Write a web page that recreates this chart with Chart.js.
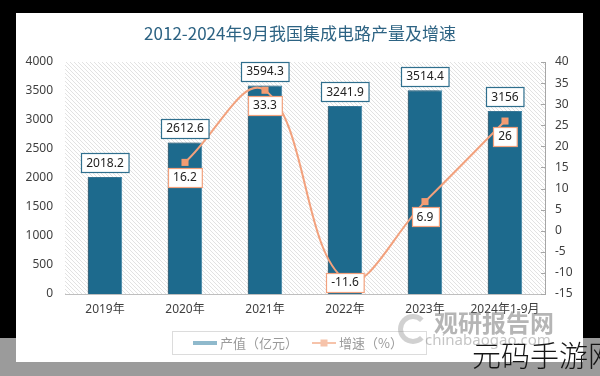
<!DOCTYPE html>
<html><head><meta charset="utf-8">
<script src="https://cdn.jsdelivr.net/npm/chart.js@4"></script>
<style>
html,body{margin:0;padding:0;width:600px;height:376px;overflow:hidden;background:#000;}
#gray{position:absolute;left:0;top:338px;width:600px;height:38px;background:#9b9b9b;}
#panel{position:absolute;left:16px;top:13px;width:567px;height:349px;background:#fff;}
#c{position:absolute;left:0;top:0;}
.wm{position:absolute;font-family:'Noto Sans CJK SC','Noto Sans',sans-serif;white-space:nowrap;line-height:1;}
#wm1{left:434px;top:310px;font-size:24px;font-weight:bold;color:rgba(120,120,120,0.55);}
#wm2{left:425px;top:332px;font-size:15px;color:rgba(140,140,140,0.5);font-family:'Noto Sans',sans-serif;}
#logo{position:absolute;left:398px;top:314px;width:20px;height:20px;border:5px solid rgba(140,140,140,0.4);border-right-color:transparent;border-radius:50%;}
#wm3{left:472px;top:340px;font-size:29px;font-weight:300;color:#151515;}
</style></head>
<body>
<div id="gray"></div><div id="panel"></div>
<canvas id="c" width="600" height="376"></canvas>
<div id="logo"></div>
<div class="wm" id="wm1">观研报告网</div>
<div class="wm" id="wm2">chinabaogao.com</div>
<div class="wm" id="wm3">元码手游网</div>
<script>
const titleText = '2012-2024年9月我国集成电路产量及增速';
const categories = ['2019年','2020年','2021年','2022年','2023年','2024年1-9月'];
const outputValues = [2018.2, 2612.6, 3594.3, 3241.9, 3514.4, 3156];
const growthValues = [null, 16.2, 33.3, -11.6, 6.9, 26];
const seriesNames = ['产值（亿元）','增速（%）'];
const leftAxis = {min: 0, max: 4000, step: 500};
const rightAxis = {min: -15, max: 40, step: 5};

const FONT = "'Noto Sans','Noto Sans CJK SC',sans-serif";
const BAR_COLOR = '#1d6a8d';
const LINE_COLOR = '#f2a17d';

function makePattern(ctx){
  const p = document.createElement('canvas');
  p.width = 4; p.height = 4;
  const g = p.getContext('2d');
  g.fillStyle = '#ffffff'; g.fillRect(0,0,4,4);
  g.strokeStyle = '#e2e2e2'; g.lineWidth = 1;
  g.beginPath(); g.moveTo(0,0); g.lineTo(4,4); g.stroke();
  g.beginPath(); g.moveTo(-1,3); g.lineTo(1,5); g.stroke();
  g.beginPath(); g.moveTo(3,-1); g.lineTo(5,1); g.stroke();
  return ctx.createPattern(p,'repeat');
}

const decorPlugin = {
  id: 'decor',
  beforeDatasetsDraw(chart){
    const {ctx, chartArea:a} = chart;
    ctx.save();
    ctx.fillStyle = makePattern(ctx);
    ctx.fillRect(a.left, a.top, a.right - a.left, a.bottom - a.top);
    ctx.restore();
  },
  beforeDatasetDraw(chart, args){
    if (args.index === 0){
      const ctx = chart.ctx;
      ctx.save();
      ctx.shadowColor = 'rgba(0,0,0,0.35)';
      ctx.shadowOffsetX = -3; ctx.shadowOffsetY = 0; ctx.shadowBlur = 2;
    }
  },
  afterDatasetDraw(chart, args){
    if (args.index === 0) chart.ctx.restore();
  },
  afterDatasetsDraw(chart){
    const {ctx, chartArea:a} = chart;
    ctx.save();
    ctx.font = '12px ' + FONT;
    ctx.textAlign = 'center'; ctx.textBaseline = 'middle';
    const drawBox = (text, cx, cy, border) => {
      const w = ctx.measureText(text).width + 10, h = 19;
      const x = Math.round(cx - w/2) + 0.5, y = Math.round(cy - h/2) + 0.5;
      ctx.fillStyle = '#fff'; ctx.fillRect(x, y, w, h);
      ctx.strokeStyle = border; ctx.lineWidth = 1.2; ctx.strokeRect(x, y, w, h);
      ctx.fillStyle = '#222'; ctx.fillText(text, cx, cy + 0.5);
    };
    chart.getDatasetMeta(0).data.forEach((el, i) => {
      drawBox(String(outputValues[i]), el.x, el.y - 14, '#2f6f8e');
    });
    chart.getDatasetMeta(1).data.forEach((el, i) => {
      if (growthValues[i] == null) return;
      let cy = Math.min(el.y + 15, a.bottom - 12);
      drawBox(String(growthValues[i]), el.x, cy, LINE_COLOR);
    });
    ctx.restore();
  },
  afterDraw(chart){
    const {ctx, chartArea:a} = chart;
    ctx.save();
    const y1 = chart.scales.y1;
    ctx.strokeStyle = '#a6a6a6'; ctx.lineWidth = 1;
    y1.ticks.forEach(t => {
      const y = Math.round(y1.getPixelForValue(t.value)) + 0.5;
      ctx.beginPath(); ctx.moveTo(a.right - 4, y); ctx.lineTo(a.right, y); ctx.stroke();
    });
    // title
    ctx.font = '17px ' + "'Noto Sans CJK SC',sans-serif";
    ctx.fillStyle = '#2d6383';
    ctx.textAlign = 'center'; ctx.textBaseline = 'middle';
    ctx.fillText(titleText, 300, 34);
    // legend
    ctx.font = '13px ' + "'Noto Sans CJK SC',sans-serif";
    const t1 = ctx.measureText(seriesNames[0]).width;
    const sw = 24, gap = 3, itemGap = 14;
    const bx = 172, by = 331, bw = 254, bh = 23;
    ctx.strokeStyle = '#dcdcdc'; ctx.lineWidth = 1;
    ctx.strokeRect(bx + 0.5, by + 0.5, bw, bh);
    let x = 193;
    const cy = by + bh/2 + 0.5;
    ctx.fillStyle = '#8fb9cc';
    ctx.fillRect(x, cy - 2, sw, 4);
    x += sw + gap;
    ctx.fillStyle = '#9a9a9a'; ctx.textAlign = 'left';
    ctx.fillText(seriesNames[0], x, cy);
    x += t1 + itemGap;
    ctx.strokeStyle = '#f6c3aa'; ctx.lineWidth = 2;
    ctx.beginPath(); ctx.moveTo(x, cy); ctx.lineTo(x + sw, cy); ctx.stroke();
    ctx.fillStyle = '#f6c3aa';
    ctx.fillRect(x + sw/2 - 3.5, cy - 3.5, 7, 7);
    x += sw + gap;
    ctx.fillStyle = '#9a9a9a';
    ctx.fillText(seriesNames[1], x, cy);
    ctx.restore();
  }
};

new Chart(document.getElementById('c'), {
  data: {
    labels: categories,
    datasets: [
      {
        type: 'bar', label: seriesNames[0], data: outputValues, yAxisID: 'y',
        backgroundColor: BAR_COLOR, borderColor: '#3f84a6', borderWidth: 1,
        barPercentage: 0.43, categoryPercentage: 1, order: 1
      },
      {
        type: 'line', label: seriesNames[1], data: growthValues, yAxisID: 'y1',
        borderColor: LINE_COLOR, borderWidth: 2, tension: 0.4, spanGaps: false,
        pointStyle: 'rect', pointRadius: 5, pointBackgroundColor: '#f39c72',
        pointBorderColor: '#f39c72', pointBorderWidth: 0, order: 0, fill: false
      }
    ]
  },
  options: {
    responsive: false, animation: false, devicePixelRatio: 1,
    layout: {padding: {top: 62, left: 0, right: 0, bottom: 0}},
    plugins: {legend: {display: false}, title: {display: false}, tooltip: {enabled: false}},
    scales: {
      x: {
        grid: {display: false, drawTicks: false},
        border: {display: true, color: '#bfbfbf'},
        ticks: {color: '#404040', font: {size: 12, family: FONT}, padding: 8, maxRotation: 0, autoSkip: false},
        afterFit(s){ s.height = 82; }
      },
      y: {
        position: 'left', min: leftAxis.min, max: leftAxis.max,
        grid: {display: false, drawTicks: false}, border: {display: false},
        ticks: {stepSize: leftAxis.step, color: '#404040', font: {size: 12, family: FONT}, padding: 12,
                callback: v => String(v)},
        afterFit(s){ s.width = 65; }
      },
      y1: {
        position: 'right', min: rightAxis.min, max: rightAxis.max,
        grid: {display: false, drawTicks: false}, border: {display: true, color: '#a6a6a6'},
        ticks: {stepSize: rightAxis.step, color: '#404040', font: {size: 12, family: FONT}, padding: 10,
                callback: v => String(v)},
        afterFit(s){ s.width = 55; }
      }
    }
  },
  plugins: [decorPlugin]
});
</script>
</body></html>
